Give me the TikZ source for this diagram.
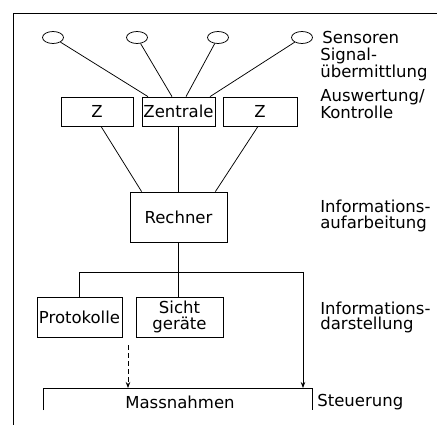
\documentclass[tikz,border=0pt]{standalone}
\usepackage{fontspec}
\setmainfont{DejaVu Sans}
\usetikzlibrary{arrows.meta, shapes.geometric, calc}

\begin{document}
\begin{tikzpicture}[x=1pt, y=1pt, line width=0.75pt,
    every node/.style={font=\fontsize{16.5pt}{15.5pt}\selectfont},
    sensor/.style={draw, ellipse, minimum width=21, minimum height=12, inner sep=0},
    box/.style={draw, rectangle, inner sep=0, align=center},
    level/.style={anchor=west, align=left, inner sep=0},
    flow/.style={-{Stealth[length=6pt, width=4.5pt]}}]
    \useasboundingbox (0,0) rectangle (437,-425);
    % --- Frame ---
    \draw (437,-13) -- (13,-13) -- (13,-425);
    % --- Sensors ---
    \node[sensor] (s1) at (53,-37.5) {};
    \node[sensor] (s2) at (137,-37.5) {};
    \node[sensor] (s3) at (218,-37.5) {};
    \node[sensor] (s4) at (302,-37.5) {};
    % --- Evaluation ---
    \node[box, minimum width=72, minimum height=29] (zl)  at (97,-111.5)  {Z};
    \node[box, minimum width=73, minimum height=29] (zen) at (178.5,-111.5) {Zentrale};
    \node[box, minimum width=74, minimum height=29] (zr)  at (260,-111.5) {Z};
    \draw (s1) -- ([xshift=-30.5]zen.north);
    \draw (s2) -- ([xshift=-6.5]zen.north);
    \draw (s3) -- ([xshift=7.5]zen.north);
    \draw (s4) -- ([xshift=31.5]zen.north);
    % --- Computer ---
    \node[box, minimum width=97, minimum height=50] (rech) at (178.5,-217) {Rechner};
    \draw ([xshift=4]zl.south) -- ([xshift=12]rech.north west);
    \draw (zen.south) -- (rech.north);
    \draw ([xshift=-2]zr.south) -- ([xshift=-12]rech.north east);
    % --- Output ---
    \node[box, minimum width=85, minimum height=40] (prot)  at (79.5,-317)  {Protokolle};
    \node[box, minimum width=87, minimum height=40,
      font=\fontsize{16.5pt}{16pt}\selectfont] (sicht) at (179.5,-317) {Sicht\\geräte};
    \coordinate (busr) at (303,-272);
    \coordinate (pout) at (128,-345);
    \draw (rech.south) -- (rech.south |- sicht.north);
    \draw (prot.north) |- (busr);
    % --- Measures ---
    \draw (43,-410) -- (43,-388) -- (312,-388) -- (312,-410);
    \node (mass) at (180,-402) {Massnahmen};
    \coordinate (min) at (128,-388);
    \coordinate (sin) at (303,-388);
    \draw[flow] (busr) -- (sin);
    \draw[flow, dashed, dash pattern=on 5pt off 3pt] (pout) -- (min);
    % --- Levels ---
    \node[level] (l1) at (322,-37.5) {Sensoren};
    \node[level] (l2) at (320,-64.5) {Signal-\\übermittlung};
    \node[level] (l3) at (320,-104.5) {Auswertung/\\Kontrolle};
    \node[level] (l4) at (320,-216) {Informations-\\aufarbeitung};
    \node[level] (l5) at (320,-317.5) {Informations-\\darstellung};
    \node[level] (l6) at (317,-402) {Steuerung};
\end{tikzpicture}
\end{document}
